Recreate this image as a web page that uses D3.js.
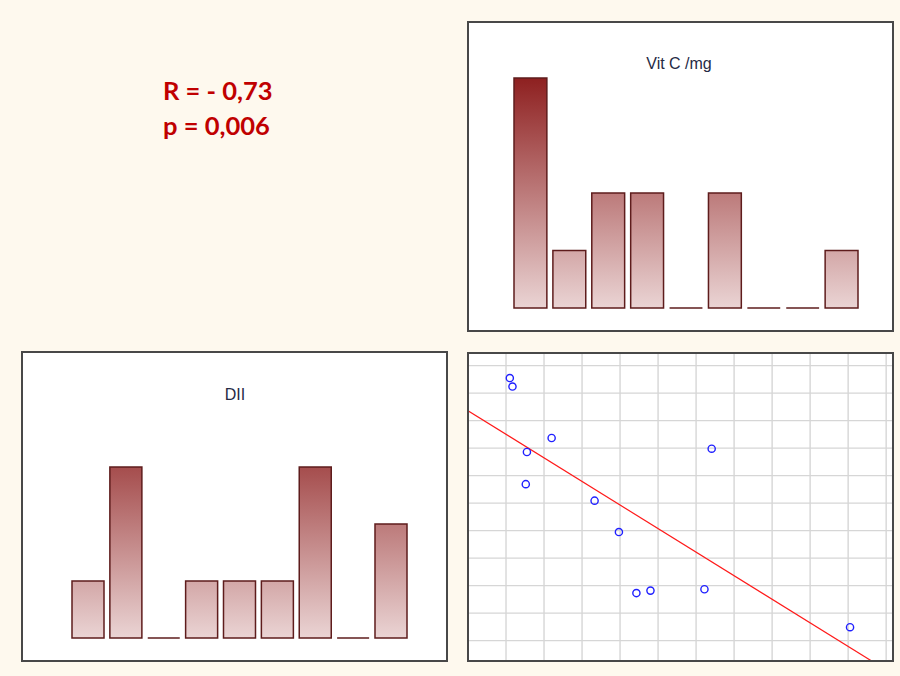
<!DOCTYPE html>
<html><head><meta charset="utf-8">
<script src="https://cdn.jsdelivr.net/npm/d3@7"></script>
<style>
html,body{margin:0;padding:0;background:#fef9ee;}
svg{display:block;}
</style></head>
<body>
<script>
// ---- data ----
const categories = [1,2,3,4,5,6,7,8,9];
const vitC = [4,1,2,2,0,2,0,0,1];
const dii  = [1,3,0,1,1,1,3,0,2];
const scatterX = [1.10,1.17,2.20,1.55,1.52,3.33,3.97,4.43,4.80,6.22,6.41,10.05];
const scatterY = [9.55,9.24,7.37,6.86,5.69,5.09,3.95,1.73,1.82,1.87,6.98,0.49];
const fitLine = {intercept: 8.36, slope: -0.857};
const statLabels = ["R = - 0,73", "p = 0,006"];
const titles = {vitC: "Vit C /mg", dii: "DII"};

const W = 900, H = 676;
const svg = d3.select("body").append("svg").attr("width", W).attr("height", H);
svg.append("rect").attr("width", W).attr("height", H).attr("fill", "#fef9ee");
const defs = svg.append("defs");

// statistics text
svg.append("g").selectAll("text").data(statLabels).join("text")
  .attr("x", 163).attr("y", (d,i) => 100 + i*35)
  .attr("font-family", "Lato, 'Open Sans', sans-serif")
  .attr("font-weight", "bold").attr("font-size", 25.5)
  .attr("fill", "#c00000").text(d => d);

function barPanel(box, values, title, gid) {
  const g = svg.append("g");
  g.append("rect").attr("x", box.x).attr("y", box.y).attr("width", box.w).attr("height", box.h)
    .attr("fill", "#ffffff").attr("stroke", "#484848").attr("stroke-width", 2);
  const x = d3.scaleBand().domain(categories).range([box.bx0, box.bx1]).paddingInner(0.155).paddingOuter(0);
  const y = d3.scaleLinear().domain([0, 4]).range([box.base, box.base - box.unit*4]);
  const grad = defs.append("linearGradient").attr("id", gid)
    .attr("gradientUnits", "userSpaceOnUse")
    .attr("x1", 0).attr("x2", 0).attr("y1", y(0)).attr("y2", y(4));
  grad.append("stop").attr("offset", 0).attr("stop-color", "#ead4d4");
  grad.append("stop").attr("offset", 1).attr("stop-color", "#8e2020");
  g.selectAll("path.bar").data(values).join("path").attr("class", "bar")
    .attr("d", (d,i) => {
      const x0 = x(categories[i]), x1 = x0 + x.bandwidth();
      return d > 0
        ? `M${x0},${y(0)}V${y(d)}H${x1}V${y(0)}Z`
        : `M${x0},${y(0)}H${x1}`;
    })
    .attr("fill", d => d > 0 ? `url(#${gid})` : "none")
    .attr("stroke", "#5e1c1c").attr("stroke-width", 1.5);
  g.append("text").attr("x", box.tx).attr("y", box.ty).attr("text-anchor", "middle")
    .attr("font-family", "'Liberation Sans', Arial, sans-serif").attr("font-size", 16)
    .attr("fill", "#252a45").text(title);
}

barPanel({x:468, y:22, w:425, h:309, bx0:514, bx1:858, base:308, unit:57.5, tx:679, ty:69}, vitC, titles.vitC, "gVit");
barPanel({x:22, y:352, w:425, h:309, bx0:72, bx1:407, base:638, unit:57, tx:235, ty:400}, dii, titles.dii, "gDii");

// scatter panel
const sp = {x:468, y:353, w:425, h:308};
const sg = svg.append("g");
sg.append("rect").attr("x", sp.x).attr("y", sp.y).attr("width", sp.w).attr("height", sp.h).attr("fill", "#ffffff");
const sx = d3.scaleLinear().domain([0, 11.18]).range([sp.x, sp.x + sp.w]);
const sy = d3.scaleLinear().domain([-0.74, 10.46]).range([sp.y + sp.h, sp.y]);
defs.append("clipPath").attr("id", "spClip").append("rect")
  .attr("x", sp.x).attr("y", sp.y).attr("width", sp.w).attr("height", sp.h);
const inner = sg.append("g").attr("clip-path", "url(#spClip)");
inner.selectAll("line.vx").data(d3.range(1, 12)).join("line").attr("class", "vx")
  .attr("x1", d => sx(d)).attr("x2", d => sx(d)).attr("y1", sp.y).attr("y2", sp.y + sp.h)
  .attr("stroke", "#d6d6d6").attr("stroke-width", 1.4);
inner.selectAll("line.hy").data(d3.range(0, 11)).join("line").attr("class", "hy")
  .attr("y1", d => sy(d)).attr("y2", d => sy(d)).attr("x1", sp.x).attr("x2", sp.x + sp.w)
  .attr("stroke", "#d6d6d6").attr("stroke-width", 1.4);
const xEnd = (-0.74 - fitLine.intercept) / fitLine.slope;
inner.append("line")
  .attr("x1", sx(0)).attr("y1", sy(fitLine.intercept))
  .attr("x2", sx(xEnd)).attr("y2", sy(fitLine.intercept + fitLine.slope * xEnd))
  .attr("stroke", "#ff1a1a").attr("stroke-width", 1.2);
inner.selectAll("circle").data(scatterX).join("circle")
  .attr("cx", d => sx(d)).attr("cy", (d,i) => sy(scatterY[i])).attr("r", 3.6)
  .attr("fill", "none").attr("stroke", "#2020ff").attr("stroke-width", 1.4);
sg.append("rect").attr("x", sp.x).attr("y", sp.y).attr("width", sp.w).attr("height", sp.h)
  .attr("fill", "none").attr("stroke", "#484848").attr("stroke-width", 2);
</script>
</body></html>
